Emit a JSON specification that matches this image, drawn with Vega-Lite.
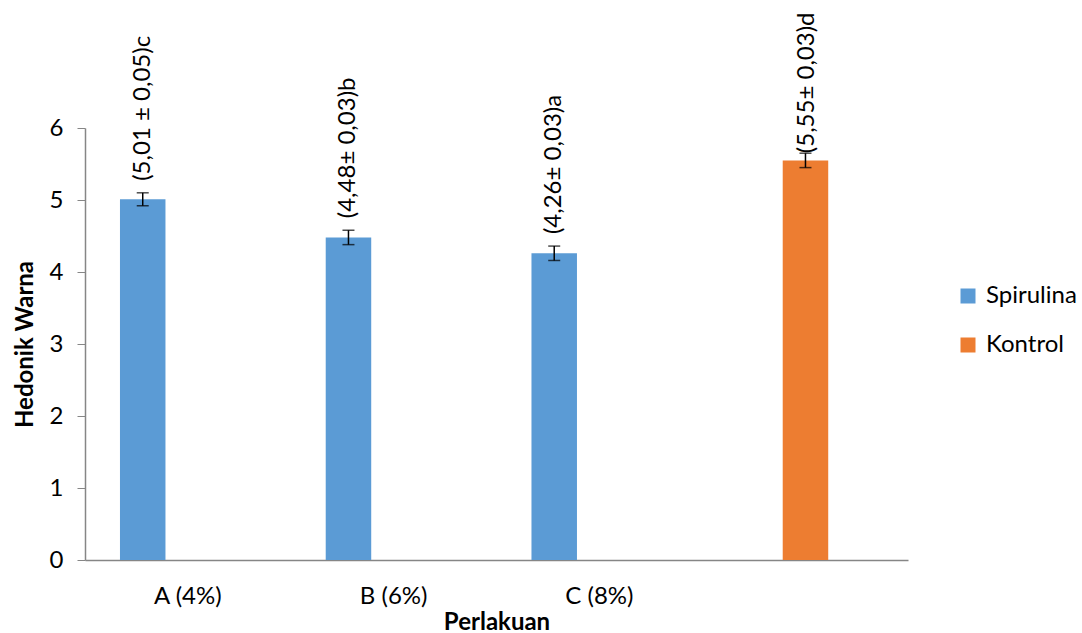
{
  "$schema": "https://vega.github.io/schema/vega-lite/v6.json",
  "width": 823,
  "height": 432,
  "autosize": {"type": "none"},
  "padding": {"left": 85, "top": 128, "right": 174, "bottom": 73},
  "background": "white",
  "config": {
    "view": {"stroke": null},
    "font": "Lato",
    "axis": {"labelFont": "Lato", "titleFont": "Lato", "labelColor": "#000000", "titleColor": "#000000"},
    "legend": {"labelFont": "Lato"}
  },
  "data": {
    "values": [
      {"perlakuan": "A (4%)", "series": "Spirulina", "value": 5.01, "lo": 4.92, "hi": 5.10, "label": "(5,01 ± 0,05)c"},
      {"perlakuan": "B (6%)", "series": "Spirulina", "value": 4.48, "lo": 4.38, "hi": 4.58, "label": "(4,48± 0,03)b"},
      {"perlakuan": "C (8%)", "series": "Spirulina", "value": 4.26, "lo": 4.16, "hi": 4.36, "label": "(4,26± 0,03)a"},
      {"perlakuan": "Kontrol", "series": "Kontrol", "value": 5.55, "lo": 5.45, "hi": 5.65, "label": "(5,55± 0,03)d"}
    ]
  },
  "encoding": {
    "x": {
      "field": "perlakuan",
      "type": "nominal",
      "sort": null,
      "scale": {"domain": ["A (4%)", "B (6%)", "C (8%)", "Kontrol"], "paddingInner": 0, "paddingOuter": 0},
      "axis": {
        "title": "Perlakuan",
        "titleFontSize": 24,
        "titleFontWeight": "bold",
        "titlePadding": 2,
        "labelAngle": 0,
        "labelFontSize": 24,
        "labelPadding": 24,
        "labelExpr": "datum.value == 'Kontrol' ? '' : datum.value",
        "ticks": false,
        "domainColor": "#868686",
        "domainWidth": 1.5
      }
    },
    "xOffset": {
      "field": "series",
      "type": "nominal",
      "scale": {"domain": ["Spirulina", "Kontrol", "pad"], "paddingInner": 0, "paddingOuter": 0.761, "align": 0.505}
    }
  },
  "layer": [
    {
      "mark": {"type": "bar"},
      "encoding": {
        "y": {
          "field": "value",
          "type": "quantitative",
          "scale": {"domain": [0, 6], "nice": false},
          "axis": {
            "title": "Hedonik Warna",
            "titleFontSize": 24,
            "titleFontWeight": "bold",
            "titlePadding": 12,
            "values": [0, 1, 2, 3, 4, 5, 6],
            "format": "d",
            "grid": false,
            "labelFontSize": 24,
            "labelPadding": 14,
            "tickSize": 8,
            "tickColor": "#868686",
            "domainColor": "#868686",
            "domainWidth": 1.5
          }
        },
        "color": {
          "field": "series",
          "type": "nominal",
          "scale": {"domain": ["Spirulina", "Kontrol"], "range": ["#5B9BD5", "#ED7D31"]},
          "legend": {
            "title": null,
            "orient": "none",
            "legendX": 871,
            "legendY": 156,
            "symbolType": "square",
            "symbolSize": 225,
            "symbolStrokeWidth": 0,
            "labelFontSize": 24,
            "labelOffset": 6,
            "rowPadding": 25,
            "labelColor": "#000000"
          }
        }
      }
    },
    {
      "mark": {"type": "rule", "color": "#000000", "strokeWidth": 1.5},
      "encoding": {
        "y": {"field": "lo", "type": "quantitative"},
        "y2": {"field": "hi"}
      }
    },
    {
      "mark": {"type": "tick", "color": "#000000", "size": 12, "thickness": 1.5},
      "encoding": {"y": {"field": "lo", "type": "quantitative"}}
    },
    {
      "mark": {"type": "tick", "color": "#000000", "size": 12, "thickness": 1.5},
      "encoding": {"y": {"field": "hi", "type": "quantitative"}}
    },
    {
      "transform": [{"filter": "datum.series == 'Spirulina'"}],
      "mark": {"type": "text", "angle": 270, "align": "left", "baseline": "middle", "dx": 12, "fontSize": 24, "font": "Lato", "color": "#000000"},
      "encoding": {
        "y": {"field": "hi", "type": "quantitative"},
        "text": {"field": "label"}
      }
    },
    {
      "transform": [{"filter": "datum.series == 'Kontrol'"}],
      "mark": {"type": "text", "angle": 270, "align": "left", "baseline": "middle", "dx": 0, "dy": 2, "fontSize": 24, "font": "Lato", "color": "#000000"},
      "encoding": {
        "y": {"field": "hi", "type": "quantitative"},
        "text": {"field": "label"}
      }
    }
  ]
}
